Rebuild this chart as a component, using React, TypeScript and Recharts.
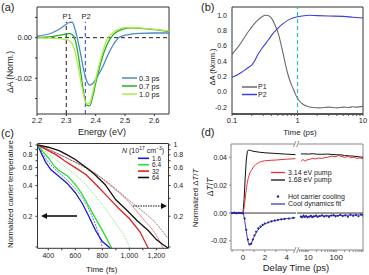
import React from 'react'
import { LineChart, Line, XAxis, YAxis, ReferenceLine } from 'recharts'

const W = 369
const H = 275
const FONT = '"Liberation Sans", Arial, Helvetica, sans-serif'

// (a) transient absorption spectra
const energy = [2.2, 2.25, 2.28, 2.3, 2.31, 2.32, 2.33, 2.34, 2.35, 2.36, 2.37, 2.38, 2.39, 2.4, 2.41, 2.42, 2.44, 2.46, 2.48, 2.5, 2.52, 2.55, 2.6, 2.65]
const spec03 = [0.0007, 0.0023, 0.0045, 0.0066, 0.0075, 0.0076, 0.004, -0.002, -0.009, -0.0165, -0.0215, -0.0234, -0.0226, -0.0205, -0.018, -0.0155, -0.009, -0.0035, 0.0002, 0.0012, 0.0017, 0.0021, 0.0023, 0.0023]
const spec07 = [0, 0.0005, 0.0012, 0.0018, 0.002, 0.0015, -0.001, -0.008, -0.018, -0.028, -0.0333, -0.0335, -0.029, -0.0225, -0.0165, -0.011, -0.003, 0.0015, 0.0035, 0.0045, 0.0048, 0.0046, 0.004, 0.003]
const spec10 = [-0.0001, -0.0002, -0.0005, -0.001, -0.0015, -0.003, -0.007, -0.014, -0.022, -0.029, -0.0328, -0.0322, -0.027, -0.0205, -0.0145, -0.009, -0.0005, 0.0025, 0.0042, 0.0049, 0.005, 0.0048, 0.0041, 0.0033]
const specNames = ['0.3 ps', '0.7 ps', '1.0 ps']
const specColors = ['#4a88cc', '#22b022', '#b2e84a']
const probeP1 = 2.3
const probeP2 = 2.365

// (b) kinetics at P1 / P2
const timeP1 = [0.1, 0.12, 0.14, 0.16, 0.19, 0.22, 0.25, 0.29, 0.33, 0.37, 0.41, 0.46, 0.51, 0.56, 0.61, 0.67, 0.73, 0.8, 0.87, 0.95, 1.05, 1.2, 1.4, 1.7, 2.2, 3, 4, 5, 6, 7, 8, 10]
const valP1 = [0.49, 0.57, 0.65, 0.73, 0.82, 0.89, 0.94, 0.985, 1.0, 0.99, 0.95, 0.86, 0.76, 0.62, 0.48, 0.32, 0.2, 0.1, 0.03, -0.05, -0.11, -0.16, -0.19, -0.205, -0.21, -0.2, -0.21, -0.2, -0.205, -0.195, -0.2, -0.19]
const timeP2 = [0.1, 0.12, 0.14, 0.16, 0.18, 0.2, 0.22, 0.25, 0.3, 0.36, 0.42, 0.5, 0.6, 0.73, 0.85, 1, 1.5, 2, 3, 5, 7, 10]
const valP2 = [0.19, 0.22, 0.255, 0.29, 0.32, 0.35, 0.4, 0.49, 0.59, 0.68, 0.76, 0.83, 0.89, 0.94, 0.965, 0.98, 1.0, 0.995, 0.99, 0.985, 0.975, 0.965]
const bTicks = [-0.2, 0, 0.2, 0.4, 0.6, 0.8, 1]
const bTickLabels = ['-0.2', '0.0', '0.2', '0.4', '0.6', '0.8', '1.0']
const bDomain = [-0.29, 1.108]

// (c) carrier temperature (solid) and normalized dT/T (thin)
const densities = ['1.6', '6.4', '32', '64']
const cColors = ['#1a1ae0', '#2ee02e', '#e02020', '#111111']
const cThin = ['#4a4ae8', '#7ee87e', '#f07070', '#666666']
const blueT = [320, 350, 380, 420, 480, 540, 600, 650, 700, 750, 800, 860]
const blueTemp = [1.0, 0.82, 0.68, 0.57, 0.49, 0.42, 0.34, 0.27, 0.2, 0.145, 0.113, 0.097]
const blueDtT = [320, 360, 400, 450, 510, 570, 640, 700, 750, 800]
const blueDt = [1.0, 0.82, 0.68, 0.58, 0.49, 0.41, 0.32, 0.235, 0.165, 0.1]
const greenT = [320, 360, 400, 440, 480, 540, 600, 650, 700, 760, 820, 870]
const greenTemp = [1.0, 0.86, 0.75, 0.63, 0.56, 0.5, 0.41, 0.33, 0.25, 0.18, 0.13, 0.097]
const greenDtT = [320, 400, 480, 540, 600, 660, 720, 780, 840, 900, 960, 1005]
const greenDt = [1.0, 0.82, 0.68, 0.59, 0.51, 0.43, 0.35, 0.28, 0.22, 0.17, 0.13, 0.097]
const redT = [320, 400, 460, 520, 600, 680, 760, 840, 920, 1000, 1080, 1140]
const redTemp = [1.0, 0.88, 0.8, 0.7, 0.6, 0.51, 0.4, 0.31, 0.24, 0.19, 0.14, 0.097]
const redDtT = [320, 440, 580, 720, 850, 980, 1100, 1200, 1250]
const redDt = [1.0, 0.86, 0.7, 0.56, 0.41, 0.29, 0.19, 0.13, 0.097]
const blackT = [320, 400, 480, 540, 600, 680, 740, 820, 900, 980, 1060, 1140, 1200, 1250, 1290]
const blackTemp = [1.0, 0.95, 0.88, 0.8, 0.72, 0.6, 0.52, 0.41, 0.29, 0.23, 0.18, 0.145, 0.118, 0.105, 0.097]
const blackDtT = [320, 420, 540, 660, 780, 880, 980, 1080, 1180, 1290]
const blackDt = [1.0, 0.88, 0.74, 0.61, 0.49, 0.39, 0.3, 0.235, 0.18, 0.12]

// (d) delay-time traces, linear part (< 5 ps) and log part (> 5 ps)
const blackLinT = [-1.1, -0.5, 0, 0.1, 0.2, 0.3, 0.4, 0.5, 0.7, 1, 1.5, 2, 3, 4, 4.8]
const blackLinV = [0, 0, 0, 0.01, 0.025, 0.038, 0.0443, 0.0452, 0.0448, 0.0442, 0.0436, 0.0432, 0.0427, 0.0422, 0.0419]
const blackLogT = [5.5, 7, 10, 15, 20, 30, 50, 70, 100, 150, 200, 300, 500, 700, 900]
const blackLogV = [0.0424, 0.0424, 0.0423, 0.0425, 0.0422, 0.0421, 0.0423, 0.042, 0.0418, 0.0417, 0.0412, 0.041, 0.0406, 0.0402, 0.04]
const redLinT = [0, 0.1, 0.25, 0.4, 0.6, 0.8, 1, 1.3, 1.7, 2.2, 3, 4, 4.8]
const redLinV = [0, 0.004, 0.014, 0.022, 0.028, 0.031, 0.0335, 0.0355, 0.037, 0.0376, 0.038, 0.0386, 0.039]
const redLogT = [5.5, 6.5, 7.5, 9, 11, 14, 18, 24, 30, 40, 55, 70, 90, 120, 160, 200, 260, 330, 420, 550, 700, 900]
const redLogV = [0.037, 0.0385, 0.0372, 0.0381, 0.0384, 0.0392, 0.0388, 0.0395, 0.0391, 0.0398, 0.0402, 0.0408, 0.0403, 0.0412, 0.0406, 0.0398, 0.0407, 0.0396, 0.0401, 0.0392, 0.0396, 0.039]
const dotLinT = [-1, -0.8, -0.6, -0.4, -0.2, 0, 0.15, 0.3, 0.45, 0.6, 0.75, 0.9, 1.05, 1.2, 1.4, 1.6, 1.8, 2, 2.3, 2.6, 2.9, 3.2, 3.5, 3.8, 4.2, 4.6]
const dotLinV = [0, 0.0003, -0.0002, 0.0001, 0, -0.0003, -0.004, -0.012, -0.019, -0.0225, -0.022, -0.019, -0.016, -0.0135, -0.011, -0.0098, -0.0085, -0.0075, -0.0068, -0.006, -0.0055, -0.005, -0.0045, -0.0042, -0.004, -0.0035]
const dotLogT = [5.5, 6, 6.8, 7.5, 8.5, 9.5, 11, 12.5, 14, 16, 19, 22, 26, 31, 37, 45, 55, 66, 80, 95, 115, 140, 170, 210, 260, 320, 400, 500, 620, 760, 900]
const dotLogV = [-0.0025, -0.003, -0.0018, -0.0028, -0.0022, -0.0032, -0.0026, -0.002, -0.003, -0.0024, -0.0019, -0.0027, -0.0022, -0.0016, -0.0025, -0.002, -0.0028, -0.0018, -0.0015, -0.0024, -0.002, -0.0013, -0.0022, -0.0017, -0.0026, -0.0012, -0.002, -0.0015, -0.0023, -0.0011, -0.0018]
const fitLinT = [-1.1, 0, 0.1, 0.2, 0.3, 0.4, 0.5, 0.6, 0.7, 0.85, 1, 1.2, 1.5, 2, 2.5, 3, 3.5, 4, 4.8]
const fitLinV = [0, 0, -0.003, -0.008, -0.013, -0.018, -0.0215, -0.0228, -0.0225, -0.02, -0.0172, -0.0142, -0.011, -0.0078, -0.0062, -0.0052, -0.0045, -0.004, -0.0034]
const fitLogT = [5.5, 10, 30, 100, 300, 900]
const fitLogV = [-0.0028, -0.0025, -0.0021, -0.0018, -0.0015, -0.0013]
const pumpNames = ['3.14 eV pump', '1.68 eV pump']

const xy = (xs: number[], ys: number[]) => xs.map((x, i) => ({ x, y: ys[i] }))

const ink = '#222'
const frame = '#333'
const tick = { fontSize: 7.5, fill: ink }
const small = { fontSize: 7, fill: ink }
const abs: React.CSSProperties = { position: 'absolute', left: 0, top: 0 }

// plot box of panel (b), used to place its value labels
const bTop = 7
const bHeight = 107

function PanelA() {
  const yTicks = [-0.03, -0.02, -0.01, 0, 0.01]
  return (
    <div style={abs}>
      <LineChart width={W} height={H} margin={{ top: 7, right: 200, bottom: 141, left: 7 }}>
        <XAxis type="number" dataKey="x" domain={[2.2, 2.65]} ticks={[2.2, 2.3, 2.4, 2.5, 2.6]} allowDataOverflow interval={0}
          height={20} tickSize={2} tickMargin={2} stroke={frame} tick={tick} tickFormatter={(v: number) => v.toFixed(1)} />
        <YAxis type="number" domain={[-0.0376, 0.0151]} ticks={yTicks} allowDataOverflow interval={0} width={30}
          tickSize={2} tickMargin={3} stroke={frame} tick={tick}
          tickFormatter={(v: number) => (v === 0 ? '0.00' : v === -0.02 ? '-0.02' : '')} />
        <ReferenceLine y={0.0151} stroke={frame} ifOverflow="visible" />
        <ReferenceLine x={2.65} stroke={frame} ifOverflow="visible" />
        <ReferenceLine y={0} stroke="#222" strokeDasharray="4 3" />
        <ReferenceLine segment={[{ x: probeP1, y: -0.0376 }, { x: probeP1, y: 0.0078 }]} stroke="#444" strokeDasharray="4 3" strokeWidth={1.2} />
        <ReferenceLine segment={[{ x: probeP2, y: -0.0376 }, { x: probeP2, y: 0.0078 }]} stroke="#4f5fe0" strokeDasharray="4 3" strokeWidth={1.2} />
        <Line data={xy(energy, spec03)} dataKey="y" type="monotone" stroke={specColors[0]} strokeWidth={1.3} dot={false} isAnimationActive={false} />
        <Line data={xy(energy, spec07)} dataKey="y" type="monotone" stroke={specColors[1]} strokeWidth={1.3} dot={false} isAnimationActive={false} />
        <Line data={xy(energy, spec10)} dataKey="y" type="monotone" stroke={specColors[2]} strokeWidth={1.3} dot={false} isAnimationActive={false} />
      </LineChart>
    </div>
  )
}

function PanelB() {
  const xTicks = [0.1, 0.2, 0.3, 0.4, 0.5, 0.6, 0.7, 0.8, 0.9, 1, 2, 3, 4, 5, 6, 7, 8, 9, 10]
  return (
    <div style={abs}>
      <LineChart width={W} height={H} margin={{ top: bTop, right: 6, bottom: 141, left: 202 }}>
        <XAxis type="number" dataKey="x" scale="log" domain={[0.1, 10]} ticks={xTicks} allowDataOverflow interval={0}
          height={20} tickSize={2} tickMargin={2} stroke="#555" axisLine={{ stroke: '#555', strokeWidth: 2 }} tick={tick}
          tickFormatter={(v: number) => (v === 0.1 ? '0.1' : v === 1 ? '1' : v === 10 ? '10' : '')} />
        <YAxis type="number" domain={bDomain} ticks={bTicks} allowDataOverflow interval={0}
          width={30} tickSize={2} stroke={frame} tick={false} />
        <ReferenceLine y={1.108} stroke={frame} ifOverflow="visible" />
        <ReferenceLine x={10} stroke={frame} ifOverflow="visible" />
        <ReferenceLine x={1} stroke="#22c0d0" strokeDasharray="4 3" strokeWidth={1.2} />
        <Line data={xy(timeP1, valP1)} dataKey="y" type="monotone" stroke="#6a6a6a" strokeWidth={1.1} dot={false} isAnimationActive={false} />
        <Line data={xy(timeP2, valP2)} dataKey="y" type="monotone" stroke="#3c3ce0" strokeWidth={1.1} dot={false} isAnimationActive={false} />
      </LineChart>
    </div>
  )
}

function PanelC() {
  const xTicks = [400, 500, 600, 700, 800, 900, 1000, 1100, 1200]
  const yTicks = [0.1, 0.2, 0.3, 0.4, 0.5, 0.6, 0.7, 0.8, 0.9, 1]
  const yFmt = (v: number) => (v === 1 ? '1' : [0.2, 0.4, 0.6, 0.8].includes(v) ? String(v) : '')
  const dom = [0.097, 1.034]
  const solid = [xy(blueT, blueTemp), xy(greenT, greenTemp), xy(redT, redTemp), xy(blackT, blackTemp)]
  const thin = [xy(blueDtT, blueDt), xy(greenDtT, greenDt), xy(redDtT, redDt), xy(blackDtT, blackDt)]
  return (
    <div style={abs}>
      <LineChart width={W} height={H} margin={{ top: 143.5, right: 176.5, bottom: 6.7, left: 9.5 }}>
        <XAxis type="number" dataKey="x" domain={[320, 1290]} ticks={xTicks} allowDataOverflow interval={0}
          height={20} tickSize={2} tickMargin={3} stroke={frame} tick={small}
          tickFormatter={(v: number) => (v % 200 === 0 ? v.toLocaleString('en-US') : '')} />
        <YAxis type="number" scale="log" domain={dom} ticks={yTicks} allowDataOverflow interval={0} width={28}
          tickSize={2} tickMargin={3} stroke={frame} tick={small} tickFormatter={yFmt} />
        <YAxis yAxisId="r" orientation="right" type="number" scale="log" domain={dom} ticks={yTicks} allowDataOverflow interval={0}
          width={24} tickSize={2} tickMargin={3} stroke={frame} tick={small} tickFormatter={yFmt} />
        <ReferenceLine y={1.034} stroke={frame} ifOverflow="visible" />
        {thin.map((d, i) => (
          <Line key={'t' + i} yAxisId="r" data={d} dataKey="y" type="monotone" stroke={cThin[i]} strokeWidth={0.8}
            strokeDasharray={i === 2 ? undefined : '2 1'} dot={false} isAnimationActive={false} />
        ))}
        {solid.map((d, i) => (
          <Line key={'s' + i} data={d} dataKey="y" type="linear" stroke={cColors[i]} strokeWidth={1.3} dot={false} isAnimationActive={false} />
        ))}
      </LineChart>
    </div>
  )
}

function PanelD() {
  const dom = [-0.0265, 0.0495]
  const gray = '#888'
  return (
    <>
      <div style={abs}>
        <LineChart width={W} height={H} margin={{ top: 144, right: 73, bottom: 7, left: 201 }}>
          <XAxis type="number" dataKey="x" domain={[-1.1, 4.85]} ticks={[-1, 0, 1, 2, 3, 4]} allowDataOverflow interval={0}
            height={18} tickSize={2} tickMargin={2} stroke={gray} tick={{ fontSize: 8, fill: ink }}
            tickFormatter={(v: number) => (v === 0 || v === 2 || v === 4 ? String(v) : '')} />
          <YAxis type="number" domain={dom} ticks={[-0.02, 0, 0.02, 0.04]} allowDataOverflow interval={0} width={30}
            tickSize={2} tickMargin={2} stroke={gray} tick={small} tickFormatter={(v: number) => v.toFixed(2)} />
          <ReferenceLine y={0.0495} stroke={gray} ifOverflow="visible" />
          <ReferenceLine y={0} stroke="#333" />
          <Line data={xy(blackLinT, blackLinV)} dataKey="y" type="linear" stroke="#111" strokeWidth={1} dot={false} isAnimationActive={false} />
          <Line data={xy(redLinT, redLinV)} dataKey="y" type="monotone" stroke="#e83030" strokeWidth={1} dot={false} isAnimationActive={false} />
          <Line data={xy(fitLinT, fitLinV)} dataKey="y" type="monotone" stroke="#3a3ad0" strokeWidth={1} dot={false} isAnimationActive={false} />
          <Line data={xy(dotLinT, dotLinV)} dataKey="y" stroke="none" dot={{ r: 1.1, fill: '#24249a', stroke: 'none' }} isAnimationActive={false} />
        </LineChart>
      </div>
      <div style={abs}>
        <LineChart width={W} height={H} margin={{ top: 144, right: 6, bottom: 7, left: 297 }}>
          <XAxis type="number" dataKey="x" scale="log" domain={[4, 900]} allowDataOverflow interval={0}
            ticks={[5, 6, 7, 8, 9, 10, 20, 30, 40, 50, 60, 70, 80, 90, 100, 200, 300, 400, 500, 600, 700, 800, 900]}
            height={18} tickSize={2} tickMargin={2} stroke={gray} tick={{ fontSize: 8, fill: ink }}
            tickFormatter={(v: number) => (v === 10 || v === 100 ? String(v) : '')} />
          <YAxis hide type="number" domain={dom} allowDataOverflow />
          <ReferenceLine y={0.0495} stroke={gray} ifOverflow="visible" />
          <ReferenceLine x={900} stroke={gray} ifOverflow="visible" />
          <ReferenceLine y={0} stroke="#333" />
          <Line data={xy(blackLogT, blackLogV)} dataKey="y" type="linear" stroke="#111" strokeWidth={1} dot={false} isAnimationActive={false} />
          <Line data={xy(redLogT, redLogV)} dataKey="y" type="linear" stroke="#e83030" strokeWidth={1} dot={false} isAnimationActive={false} />
          <Line data={xy(fitLogT, fitLogV)} dataKey="y" type="monotone" stroke="#3a3ad0" strokeWidth={1} dot={false} isAnimationActive={false} />
          <Line data={xy(dotLogT, dotLogV)} dataKey="y" stroke="none" dot={{ r: 1.1, fill: '#24249a', stroke: 'none' }} isAnimationActive={false} />
        </LineChart>
      </div>
    </>
  )
}

function Overlay() {
  const vt = (x: number, y: number, s: React.ReactNode, size = 8.5) => (
    <text transform={`translate(${x},${y}) rotate(-90)`} textAnchor="middle" dy="0.35em" fontSize={size} fill={ink}>{s}</text>
  )
  const bY = (v: number) => bTop + ((bDomain[1] - v) / (bDomain[1] - bDomain[0])) * bHeight
  return (
    <svg width={W} height={H} style={{ ...abs, pointerEvents: 'none' }} fontFamily={FONT}>
      <text x={1} y={11} fontSize={11} fill={ink}>(a)</text>
      <text x={201} y={11} fontSize={11} fill={ink}>(b)</text>
      <text x={1} y={137} fontSize={11} fill={ink}>(c)</text>
      <text x={201} y={136} fontSize={11} fill={ink}>(d)</text>

      {/* (a) */}
      <text x={67} y={19} textAnchor="middle" fontSize={7.5} fill={ink}>P1</text>
      <text x={86} y={19} textAnchor="middle" fontSize={7.5} fill={ink}>P2</text>
      {vt(10.5, 72, 'ΔA (Norm.)')}
      <text x={102} y={135} textAnchor="middle" fontSize={9} fill={ink}>Energy (eV)</text>
      {specNames.map((n, i) => (
        <g key={n}>
          <line x1={122} x2={137} y1={78 + i * 8} y2={78 + i * 8} stroke={specColors[i]} strokeWidth={1.5} />
          <text x={139} y={80.7 + i * 8} fontSize={7.5} fill={ink}>{n}</text>
        </g>
      ))}

      {/* (b) */}
      {bTicks.map((v, i) => (
        <text key={v} x={227} y={bY(v)} dy="0.35em" textAnchor="end" fontSize={7} fill={ink}>{bTickLabels[i]}</text>
      ))}
      {vt(212, 67, 'ΔA (Norm.)', 7.5)}
      <text x={300} y={135} textAnchor="middle" fontSize={8} fill={ink}>Time (ps)</text>
      <line x1={242} x2={257} y1={87} y2={87} stroke="#6a6a6a" strokeWidth={1.5} />
      <text x={258} y={89.4} fontSize={7} fill={ink}>P1</text>
      <line x1={242} x2={257} y1={94.5} y2={94.5} stroke="#3c3ce0" strokeWidth={1.5} />
      <text x={258} y={96.9} fontSize={7} fill={ink}>P2</text>

      {/* (c) */}
      {vt(10, 194, 'Normalized carrier temperature', 7.8)}
      {vt(195.5, 198, <><tspan>Normalized Δ</tspan><tspan fontStyle="italic">T</tspan><tspan>/</tspan><tspan fontStyle="italic">T</tspan></>, 7.8)}
      <text x={101.7} y={272} textAnchor="middle" fontSize={8} fill={ink}>Time (fs)</text>
      <text x={122} y={152.5} fontSize={7} fill={ink}>
        <tspan fontStyle="italic">N</tspan> (10<tspan baselineShift="super" fontSize={5}>17</tspan> cm<tspan baselineShift="super" fontSize={5}>−3</tspan>)
      </text>
      {densities.map((n, i) => (
        <g key={n}>
          <line x1={138} x2={149} y1={158.3 + i * 6.4} y2={158.3 + i * 6.4} stroke={cColors[i]} strokeWidth={1.6} />
          <text x={152} y={160.7 + i * 6.4} fontSize={6.5} fill={ink}>{n}</text>
        </g>
      ))}
      <line x1={45} x2={77} y1={216} y2={216} stroke="#111" strokeWidth={1.6} />
      <polygon points="41,216 47,213 47,219" fill="#111" />
      <line x1={133} x2={162} y1={206} y2={206} stroke="#111" strokeWidth={1.1} strokeDasharray="1.5 1" />
      <polygon points="167,206 161,203 161,209" fill="#111" />

      {/* (d) */}
      {vt(210.5, 187, <><tspan>Δ</tspan><tspan fontStyle="italic">T</tspan><tspan>/</tspan><tspan fontStyle="italic">T</tspan></>, 8.5)}
      <text x={296} y={271} textAnchor="middle" fontSize={9.5} fill={ink}>Delay Time (ps)</text>
      <line x1={271} x2={285} y1={172.5} y2={172.5} stroke="#e83030" strokeWidth={1.3} />
      <text x={288} y={174.9} fontSize={7} fill={ink}>{pumpNames[0]}</text>
      <line x1={271} x2={285} y1={180} y2={180} stroke="#111" strokeWidth={1.3} />
      <text x={288} y={182.4} fontSize={7} fill={ink}>{pumpNames[1]}</text>
      <circle cx={278} cy={196.5} r={1.2} fill="#24249a" />
      <text x={288} y={198.9} fontSize={7} fill={ink}>Hot carrier cooling</text>
      <line x1={271} x2={285} y1={204} y2={204} stroke="#3a3ad0" strokeWidth={1.3} />
      <text x={288} y={206.4} fontSize={7} fill={ink}>Cool dynamics fit</text>
      <rect x={294.5} y={141} width={4} height={6} fill="#fff" />
      <line x1={293.5} y1={147} x2={296} y2={141} stroke="#777" strokeWidth={0.8} />
      <line x1={296.5} y1={147} x2={299} y2={141} stroke="#777" strokeWidth={0.8} />
      <rect x={294.5} y={247} width={4} height={6} fill="#fff" />
      <line x1={293.5} y1={253} x2={296} y2={247} stroke="#777" strokeWidth={0.8} />
      <line x1={296.5} y1={253} x2={299} y2={247} stroke="#777" strokeWidth={0.8} />
    </svg>
  )
}

export default function App() {
  return (
    <div style={{ ...abs, width: W, height: H, background: '#fff', fontFamily: FONT, overflow: 'hidden' }}>
      <PanelA />
      <PanelB />
      <PanelC />
      <PanelD />
      <Overlay />
    </div>
  )
}
